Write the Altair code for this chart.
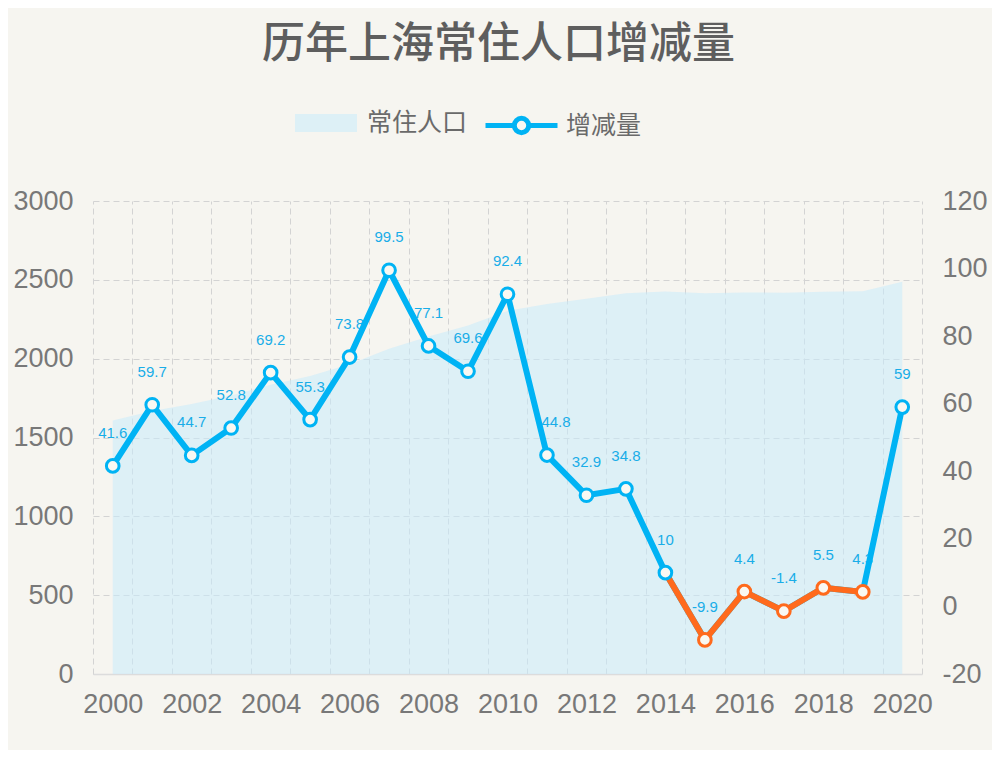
import altair as alt
import pandas as pd

years = [2000, 2001, 2002, 2003, 2004, 2005, 2006, 2007, 2008, 2009, 2010,
         2011, 2012, 2013, 2014, 2015, 2016, 2017, 2018, 2019, 2020]
population = [1608.6, 1668.3, 1713.0, 1765.8, 1835.0, 1890.3, 1964.1, 2063.6,
              2140.7, 2210.3, 2302.7, 2347.5, 2380.4, 2415.2, 2425.7, 2415.3,
              2419.7, 2418.3, 2423.8, 2428.1, 2487.1]
change = [41.6, 59.7, 44.7, 52.8, 69.2, 55.3, 73.8, 99.5, 77.1, 69.6, 92.4,
          44.8, 32.9, 34.8, 10, -9.9, 4.4, -1.4, 5.5, 4.3, 59]
series_names = ["常住人口", "增减量"]
orange_line_years = [2014, 2015, 2016, 2017, 2018, 2019]
orange_point_years = [2015, 2016, 2017, 2018, 2019]
x_label_years = [2000, 2002, 2004, 2006, 2008, 2010, 2012, 2014, 2016, 2018, 2020]
x_grid_years = [1999.5 + i for i in range(22)]
left_ticks = [0, 500, 1000, 1500, 2000, 2500, 3000]
right_ticks = [-20, 0, 20, 40, 60, 80, 100, 120]

BLUE = "#00b3f4"
ORANGE = "#ff6a1c"
LABEL_BLUE = "#19ade8"
BG = "#f6f5f0"
PT_FILL = "#f9f8f2"
GRID = "#d3d3d3"
AXIS_TXT = "#787878"
NUM_FONT = "Liberation Sans"
CJK_FONT = "Noto Sans CJK SC"
HYPHEN_LABEL = "datum.value < 0 ? '-' + abs(datum.value) : '' + datum.value"

df = pd.DataFrame({
    "year": years,
    "population": population,
    "change": change,
    "label": [f"{v:g}" for v in change],
})
df["s_area"] = series_names[0]
df["s_line"] = series_names[1]
df["orange_line"] = df["year"].isin(orange_line_years)
df["orange_point"] = df["year"].isin(orange_point_years)

xscale = alt.Scale(domain=[1999.5, 2020.5], nice=False, zero=False)

x_main = alt.X("year:Q", scale=xscale, title=None,
               axis=alt.Axis(orient="bottom", values=x_label_years, format="d",
                             grid=False, ticks=False, domain=True,
                             domainColor="#dcdcdc", domainWidth=1.5,
                             labelFontSize=27, labelFont=NUM_FONT,
                             labelColor=AXIS_TXT, labelPadding=17))
x_grid = alt.X("year:Q", scale=xscale, title=None,
               axis=alt.Axis(orient="top", values=x_grid_years, labels=False,
                             ticks=False, domain=False, grid=True,
                             gridColor=GRID, gridDash=[6, 4], gridWidth=1))

area = alt.Chart(df).mark_area(opacity=0.55, interpolate="linear").encode(
    x=x_main,
    y=alt.Y("population:Q", title=None,
            scale=alt.Scale(domain=[0, 3000], nice=False),
            axis=alt.Axis(orient="left", values=left_ticks, grid=True,
                          format="d",
                          gridColor=GRID, gridDash=[6, 4], gridWidth=1,
                          ticks=False, domain=False, labelFontSize=27,
                          labelFont=NUM_FONT, labelColor=AXIS_TXT,
                          labelPadding=20)),
    fill=alt.Fill("s_area:N",
                  scale=alt.Scale(domain=[series_names[0]], range=["#c8ebfc"]),
                  legend=alt.Legend(title=None, orient="none", legendX=202,
                                    legendY=-109,
                                    symbolType="M-1,-0.29H1V0.29H-1Z",
                                    symbolSize=3844, symbolStrokeWidth=0,
                                    labelFont=CJK_FONT, labelFontSize=25,
                                    labelColor="#6a6a6a", labelOffset=10)),
)

yr = alt.Y("change:Q", title=None,
           scale=alt.Scale(domain=[-20, 120], nice=False),
           axis=alt.Axis(orient="right", values=right_ticks, grid=False,
                         labelExpr=HYPHEN_LABEL,
                         ticks=False, domain=False, labelFontSize=27,
                         labelFont=NUM_FONT, labelColor=AXIS_TXT,
                         labelPadding=20))

inner_base = alt.Chart(df)

labels = inner_base.transform_filter("datum.year != 2011").mark_text(
    dy=-33, fontSize=15, font=NUM_FONT, color=LABEL_BLUE
).encode(x=x_grid, y=yr, text="label:N")

label_2011 = inner_base.transform_filter("datum.year == 2011").mark_text(
    dy=-33, dx=9, fontSize=15, font=NUM_FONT, color=LABEL_BLUE
).encode(x=x_grid, y=yr, text="label:N")

legend_line_path = ("M-1,0H-0.2M0.2,0H1M0.2,0A0.2,0.2 0 1,1 -0.2,0"
                    "A0.2,0.2 0 1,1 0.2,0Z")

line = inner_base.mark_line(strokeWidth=6, strokeCap="round",
                            strokeJoin="round").encode(
    x=x_grid, y=yr,
    stroke=alt.Stroke("s_line:N",
                      scale=alt.Scale(domain=[series_names[1]], range=[BLUE]),
                      legend=alt.Legend(title=None, orient="none", legendX=390,
                                        legendY=-114,
                                        symbolType=legend_line_path,
                                        symbolSize=5184, symbolStrokeWidth=5,
                                        symbolFillColor=PT_FILL,
                                        labelFont=CJK_FONT, labelFontSize=25,
                                        labelColor="#6a6a6a", labelOffset=6)),
)

orange_line = inner_base.transform_filter("datum.orange_line").mark_line(
    strokeWidth=6, strokeCap="round", strokeJoin="round", color=ORANGE
).encode(x=x_grid, y=yr)

points = inner_base.mark_point(shape="circle", filled=True, fill=PT_FILL,
                               size=160, strokeWidth=3, opacity=1).encode(
    x=x_grid, y=yr,
    stroke=alt.condition("datum.orange_point", alt.value(ORANGE),
                         alt.value(BLUE)),
)

inner = alt.layer(labels, label_2011, line, orange_line, points)

chart = alt.layer(area, inner).resolve_scale(
    y="independent"
).resolve_axis(
    x="independent"
).properties(
    width=829, height=473,
    title=alt.TitleParams("历年上海常住人口增减量", fontSize=43, font=CJK_FONT,
                          fontWeight=500, color="#5e5e5e", anchor="middle",
                          offset=20, dx=-9),
    autosize=alt.AutoSizeParams(type="none"),
    padding={"left": 85, "top": 193, "right": 70, "bottom": 76},
).configure(
    background=BG,
).configure_view(
    stroke=None,
)

chart.save("out.html", embed_options={"renderer": "svg", "actions": False})
